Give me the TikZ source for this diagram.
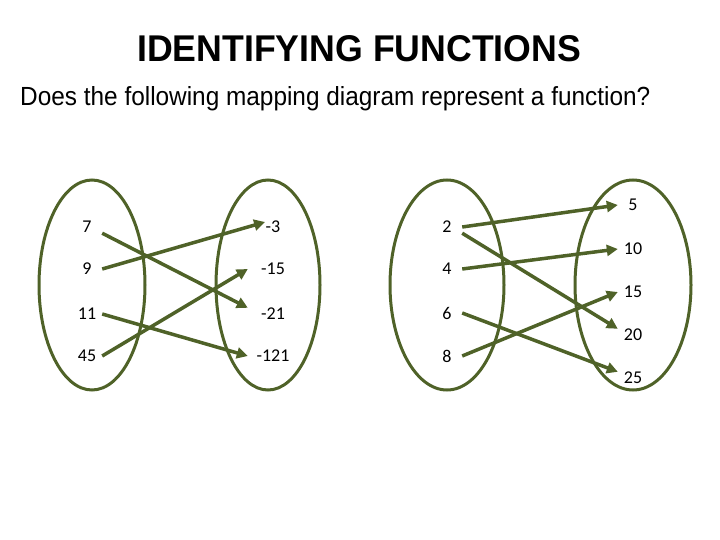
\documentclass[tikz,border=0pt]{standalone}
\usepackage{fontspec}
\setmainfont{Liberation Sans}
\newfontfamily\numfont{Carlito}
\usetikzlibrary{arrows.meta}
\definecolor{olive}{RGB}{79,98,40}
\begin{document}
\begin{tikzpicture}[x=1pt,y=-1pt,
  setring/.style={draw=olive,line width=3pt},
  numlab/.style={font=\numfont\fontsize{18}{20}\selectfont,inner sep=0pt,minimum width=30pt,minimum height=12pt},
  maparrow/.style={draw=olive,line width=3.5pt,-{Triangle[length=11pt,width=11pt]}}]
\useasboundingbox (0,0) rectangle (720,540);
\node[anchor=south west,inner sep=0pt] (title) at (137,62) {\resizebox{444pt}{26pt}{\bfseries IDENTIFYING FUNCTIONS}};
\node[anchor=base west,inner sep=0pt] (sub) at (20,106) {\resizebox{630pt}{19pt}{Does the following mapping diagram represent a function?}};
% ellipses
\draw[setring] (92,285) ellipse [x radius=53,y radius=105];
\draw[setring] (268,285) ellipse [x radius=52,y radius=105];
\draw[setring] (447,285) ellipse [x radius=57,y radius=105];
\draw[setring] (633,285) ellipse [x radius=58,y radius=105];
% left diagram
\node[numlab] (a7) at (87,227) {7};
\node[numlab] (a9) at (87,269) {9};
\node[numlab] (a11) at (87,314) {11};
\node[numlab] (a45) at (87,356) {45};
\node[numlab,minimum width=50pt] (b3) at (273,227) {-3};
\node[numlab,minimum width=50pt] (b15) at (273,269) {-15};
\node[numlab,minimum width=50pt] (b21) at (273,314) {-21};
\node[numlab,minimum width=50pt] (b121) at (273,356) {-121};
\draw[maparrow] (a7.south east) -- (b21.north west);
\draw[maparrow,shorten >=-18pt] (a9.east) -- (b3.west);
\draw[maparrow] (a11.east) -- (b121.west);
\draw[maparrow] (a45.east) -- (b15.west);
% right diagram
\node[numlab] (c2) at (447,227) {2};
\node[numlab] (c4) at (447,269) {4};
\node[numlab] (c6) at (447,313) {6};
\node[numlab] (c8) at (447,356) {8};
\node[numlab] (d5) at (633,205) {5};
\node[numlab] (d10) at (633,249) {10};
\node[numlab] (d15) at (633,292) {15};
\node[numlab] (d20) at (633,335) {20};
\node[numlab] (d25) at (633,378) {25};
\draw[maparrow] (c2.east) -- (d5.west);
\draw[maparrow] (c2.south east) -- (d20.north west);
\draw[maparrow] (c4.east) -- (d10.west);
\draw[maparrow] (c6.east) -- (d25.north west);
\draw[maparrow] (c8.east) -- (d15.west);
\end{tikzpicture}
\end{document}
